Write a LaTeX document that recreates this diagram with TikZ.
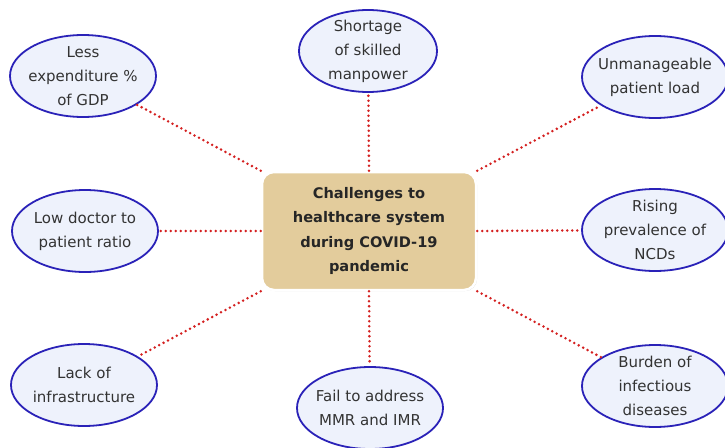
\documentclass[tikz,border=0pt]{standalone}
\usepackage{fontspec}
\setmainfont{DejaVu Sans}
\usetikzlibrary{shapes.geometric,shadows}
\definecolor{ellfill}{HTML}{EEF2FC}
\definecolor{elldraw}{HTML}{2A22B8}
\definecolor{hubfill}{HTML}{E3CC9C}
\definecolor{txt}{HTML}{333333}
\definecolor{dotred}{HTML}{D42020}
\tikzset{
  leaf/.style={ellipse, draw=elldraw, line width=1.8pt, fill=ellfill,
    minimum width=146pt, minimum height=82pt, inner xsep=-16pt, inner ysep=-12pt,
    align=center, text=txt, font=\fontsize{15}{24}\selectfont},
  hub/.style={rounded corners=12pt, draw=white, line width=2.5pt, fill=hubfill,
    minimum width=214pt, minimum height=118pt, align=center, text=black!85,
    font=\bfseries\fontsize{14.6}{24.5}\selectfont,
    drop shadow={shadow xshift=1pt, shadow yshift=-1pt, opacity=0.35}},
  link/.style={dotred, line width=2.8pt, line cap=round, dash pattern=on 0pt off 5pt}
}
\begin{document}
\begin{tikzpicture}[x=1pt,y=-1pt]
\useasboundingbox (0,0) rectangle (725,447);
\fill[white] (0,0) rectangle (725,447);
\node[hub] (c) at (369,231) {Challenges to\\healthcare system\\during COVID-19\\pandemic};
\node[leaf] (tl) at (83,76) {Less\\expenditure \%\\of GDP};
\node[leaf, minimum width=138pt] (tc) at (368,51) {Shortage\\of skilled\\manpower};
\node[leaf] (tr) at (655,77) {Unmanageable\\patient load};
\node[leaf] (ml) at (85,231) {Low doctor to\\patient ratio};
\node[leaf] (mr) at (655,230) {Rising\\prevalence of\\NCDs};
\node[leaf] (bl) at (84,385) {Lack of\\infrastructure};
\node[leaf] (bc) at (370,408) {Fail to address\\MMR and IMR};
\node[leaf] (br) at (655,386) {Burden of\\infectious\\diseases};
\draw[link] (c.north west) -- (tl);
\draw[link] (c.north) -- (tc);
\draw[link] (c.north east) -- (tr);
\draw[link] (c.west) -- (ml);
\draw[link] (c.east) -- (mr);
\draw[link] (c.south west) -- (bl);
\draw[link] (c.south) -- (bc);
\draw[link] (c.south east) -- (br);
\end{tikzpicture}
\end{document}
